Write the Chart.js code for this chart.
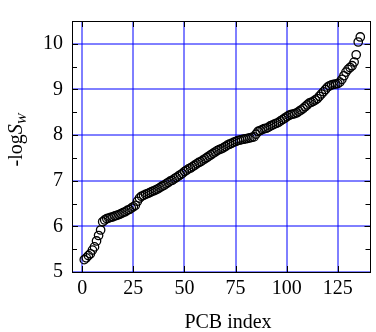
<!DOCTYPE html>
<html>
<head>
<meta charset="utf-8">
<script src="https://cdn.jsdelivr.net/npm/chart.js@4.4.0/dist/chart.umd.min.js"></script>
<style>
  html, body { margin: 0; padding: 0; background: #fff; }
  canvas { display: block; }
</style>
</head>
<body>
<canvas id="mycanvas" width="376" height="332"></canvas>
<script>
// -logSw for the PCBs, sorted (index 1..136)
var logSw = [
  5.27, 5.31, 5.36, 5.40, 5.48, 5.55, 5.68, 5.80, 5.92, 6.10,
  6.14, 6.17, 6.18, 6.20, 6.21, 6.23, 6.24, 6.26, 6.28, 6.30,
  6.32, 6.35, 6.37, 6.40, 6.43, 6.46, 6.55, 6.62, 6.66, 6.68,
  6.70, 6.72, 6.74, 6.76, 6.78, 6.80, 6.82, 6.85, 6.88, 6.90,
  6.93, 6.96, 6.99, 7.01, 7.04, 7.07, 7.10, 7.13, 7.16, 7.20,
  7.23, 7.26, 7.28, 7.31, 7.34, 7.37, 7.40, 7.42, 7.45, 7.48,
  7.51, 7.54, 7.57, 7.60, 7.63, 7.66, 7.68, 7.70, 7.72, 7.75,
  7.78, 7.80, 7.82, 7.84, 7.86, 7.88, 7.89, 7.90, 7.91, 7.92,
  7.93, 7.94, 7.95, 7.96, 8.02, 8.08, 8.10, 8.12, 8.14, 8.15,
  8.17, 8.20, 8.22, 8.24, 8.26, 8.28, 8.31, 8.34, 8.37, 8.40,
  8.43, 8.45, 8.46, 8.47, 8.49, 8.52, 8.55, 8.58, 8.62, 8.66,
  8.70, 8.72, 8.74, 8.77, 8.80, 8.85, 8.90, 8.95, 9.00, 9.05,
  9.08, 9.10, 9.11, 9.12, 9.13, 9.16, 9.22, 9.30, 9.38, 9.44,
  9.48, 9.52, 9.60, 9.76, 10.04, 10.15
];
var xTicks = [0, 25, 50, 75, 100, 125];
var yTicks = [5, 6, 7, 8, 9, 10];
var yMinorTicks = [5.5, 6.5, 7.5, 8.5, 9.5, 10.5];

var points = [];
for (var i in logSw) {
  points.push({x: Number(i) + 1, y: logSw[i]});
}

var serif = "'Liberation Serif', 'Times New Roman', serif";

// soft blue grid + frame, inner ticks, titles
var framePlugin = {
  id: 'frame',
  beforeDatasetsDraw: function(chart) {
    var ctx = chart.ctx;
    var a = chart.chartArea;
    var xs = chart.scales.x, ys = chart.scales.y;
    ctx.save();
    ctx.strokeStyle = '#0000ff';
    ctx.lineWidth = 1;
    ctx.beginPath();
    xTicks.forEach(function(v) {
      var px = Math.round(xs.getPixelForValue(v));
      ctx.moveTo(px, a.top); ctx.lineTo(px, a.bottom);
    });
    yTicks.forEach(function(v) {
      var py = Math.round(ys.getPixelForValue(v));
      ctx.moveTo(a.left, py); ctx.lineTo(a.right, py);
    });
    ctx.stroke();
    ctx.restore();
  },
  afterDraw: function(chart) {
    var ctx = chart.ctx;
    var a = chart.chartArea;
    var xs = chart.scales.x, ys = chart.scales.y;
    ctx.save();
    ctx.strokeStyle = '#000';
    ctx.lineWidth = 1;
    ctx.beginPath();
    xTicks.forEach(function(v) {
      var px = Math.round(xs.getPixelForValue(v)) + 0.5;
      ctx.moveTo(px, a.bottom); ctx.lineTo(px, a.bottom - 6);
      ctx.moveTo(px, a.top); ctx.lineTo(px, a.top + 6);
    });
    yTicks.forEach(function(v) {
      var py = Math.round(ys.getPixelForValue(v)) + 0.5;
      ctx.moveTo(a.left, py); ctx.lineTo(a.left + 6, py);
      ctx.moveTo(a.right, py); ctx.lineTo(a.right - 6, py);
    });
    yMinorTicks.forEach(function(v) {
      var py = Math.round(ys.getPixelForValue(v)) + 0.5;
      ctx.moveTo(a.left, py); ctx.lineTo(a.left + 5, py);
      ctx.moveTo(a.right, py); ctx.lineTo(a.right - 5, py);
    });
    ctx.stroke();
    ctx.strokeRect(Math.round(a.left) + 0.5, Math.round(a.top) + 0.5,
                   Math.round(a.right - a.left) - 1, Math.round(a.bottom - a.top));

    // x title
    ctx.fillStyle = '#000';
    ctx.font = '20px ' + serif;
    ctx.textAlign = 'center';
    ctx.textBaseline = 'alphabetic';
    ctx.fillText('PCB index', 228, 328);

    // y title: -logS_W
    ctx.translate(22, 140);
    ctx.rotate(-Math.PI / 2);
    ctx.textAlign = 'left';
    ctx.font = '20px ' + serif;
    var w1 = ctx.measureText('-log').width;
    ctx.font = 'italic 20px ' + serif;
    var w2 = ctx.measureText('S').width;
    ctx.font = 'italic 13px ' + serif;
    var w3 = ctx.measureText('W').width;
    var x0 = -(w1 + w2 + w3) / 2;
    ctx.font = '20px ' + serif;
    ctx.fillText('-log', x0, 0);
    ctx.font = 'italic 20px ' + serif;
    ctx.fillText('S', x0 + w1, 0);
    ctx.font = 'italic 13px ' + serif;
    ctx.fillText('W', x0 + w1 + w2, 4);
    ctx.restore();
  }
};

var ctx = document.getElementById('mycanvas');
var chart = new Chart(ctx, {
  type: 'scatter',
  data: {
    datasets: [{
      label: '-logSw',
      data: points,
      pointStyle: 'circle',
      pointRadius: 4.2,
      pointBorderWidth: 1.3,
      borderColor: '#000',
      backgroundColor: 'rgba(0,0,0,0)'
    }]
  },
  options: {
    responsive: false,
    animation: false,
    layout: { padding: { top: 14, right: 1, left: 0, bottom: 0 } },
    plugins: {
      legend: { display: false },
      tooltip: { enabled: false }
    },
    scales: {
      x: {
        type: 'linear',
        min: -5,
        max: 141,
        afterBuildTicks: function(scale) {
          scale.ticks = xTicks.map(function(v) { return {value: v}; });
        },
        afterFit: function(scale) { scale.height = 60; },
        grid: { display: false, drawTicks: false },
        border: { display: false },
        ticks: {
          color: '#000',
          padding: 5,
          maxRotation: 0,
          font: { family: serif, size: 20 }
        }
      },
      y: {
        min: 5,
        max: 10.5,
        afterBuildTicks: function(scale) {
          scale.ticks = yTicks.map(function(v) { return {value: v}; });
        },
        afterFit: function(scale) { scale.width = 72; },
        grid: { display: false, drawTicks: false },
        border: { display: false },
        ticks: {
          color: '#000',
          padding: 9,
          font: { family: serif, size: 20 }
        }
      }
    }
  },
  plugins: [framePlugin]
});
</script>
</body>
</html>
